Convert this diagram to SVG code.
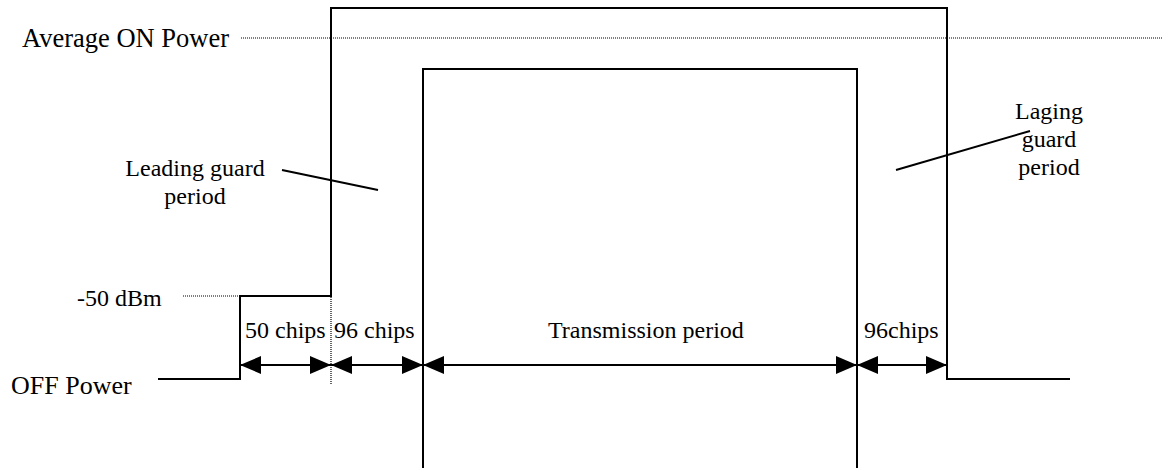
<svg xmlns="http://www.w3.org/2000/svg" width="1163" height="468" viewBox="0 0 1163 468">
<style>
  text { font-family: "Liberation Serif", "Times New Roman", serif; fill: #000; }
  .t24 { font-size: 24px; }
  .t26 { font-size: 26px; }
  .t265 { font-size: 26.5px; }
  .mid { text-anchor: middle; }
  .solid { fill: none; stroke: #000; stroke-width: 2; }
  .dot { fill: none; stroke: #000; stroke-width: 1.2; stroke-dasharray: 1 1; }
  .arrow { fill: none; stroke: #000; stroke-width: 2; marker-start: url(#ah); marker-end: url(#ah); }
</style>
<defs>
  <marker id="ah" viewBox="0 0 21 18" refX="21" refY="9" markerWidth="21" markerHeight="18" markerUnits="userSpaceOnUse" orient="auto-start-reverse">
    <path d="M0,0 L21,9 L0,18 Z" fill="#000"/>
  </marker>
</defs>
<rect width="1163" height="468" fill="#fff"/>

<g id="power-envelope">
  <path class="solid" d="M158,379 H240 V296 H331 V8 H947 V379 H1070"/>
</g>
<g id="transmission-window">
  <path class="solid" d="M423,468 V69 H857 V468"/>
</g>
<g id="reference-levels">
  <line class="dot" x1="241" y1="38" x2="1163" y2="38"/>
  <line class="dot" x1="183" y1="296" x2="240" y2="296"/>
  <line class="dot" x1="331" y1="297" x2="331" y2="385"/>
</g>

<g id="connectors">
  <line class="arrow" x1="240" y1="365" x2="331" y2="365"/>
  <line class="arrow" x1="331" y1="365" x2="423" y2="365"/>
  <line class="arrow" x1="423" y1="365" x2="857" y2="365"/>
  <line class="arrow" x1="857" y1="365" x2="947" y2="365"/>
  <line class="solid" x1="282" y1="170" x2="378" y2="190"/>
  <line class="solid" x1="896" y1="170" x2="1030" y2="131"/>
</g>

<g id="label-average-on-power"><text class="t265" x="22" y="47">Average ON Power</text></g>
<g id="label-off-power"><text class="t26" x="11" y="394">OFF Power</text></g>
<g id="label-minus50"><text class="t24" x="77" y="306">-50 dBm</text></g>
<g id="label-leading"><text class="t24 mid" x="195" y="176">Leading guard</text><text class="t24 mid" x="195" y="204">period</text></g>
<g id="label-laging"><text class="t24 mid" x="1049" y="119">Laging</text><text class="t24 mid" x="1049" y="147">guard</text><text class="t24 mid" x="1049" y="175">period</text></g>
<g id="label-50chips"><text class="t24" x="245" y="338">50 chips</text></g>
<g id="label-96chips-a"><text class="t24" x="334" y="338">96 chips</text></g>
<g id="label-transmission"><text class="t24" x="548" y="338">Transmission period</text></g>
<g id="label-96chips-b"><text class="t24" x="864" y="338">96chips</text></g>
</svg>
